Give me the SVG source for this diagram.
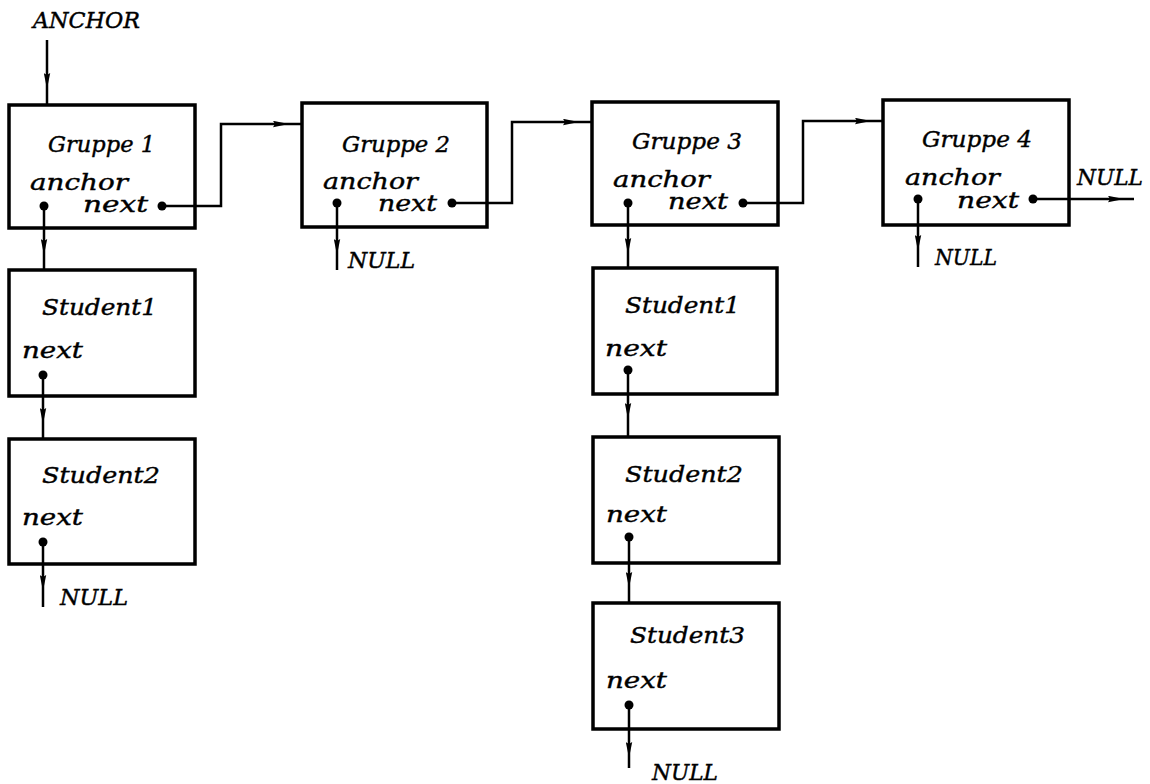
<svg xmlns="http://www.w3.org/2000/svg" width="1150" height="784" viewBox="0 0 1150 784">
<style>
.box{fill:none;stroke:#000;stroke-width:3.5}
.ln{fill:none;stroke:#000;stroke-width:2.5}
.ar{fill:none;stroke:#000;stroke-width:2.5;marker-end:url(#arr)}
.t{font-family:"DejaVu Serif","Liberation Serif",serif;font-style:italic;font-size:22px;fill:#000;stroke:#000;stroke-width:0.4}
.dot{fill:#000}
</style>
<defs>
<marker id="arr" viewBox="0 0 16 7" refX="15" refY="3.5" markerWidth="16" markerHeight="7" markerUnits="userSpaceOnUse" orient="auto">
<path d="M0,0.3 L16,3.5 L0,6.7 L2,3.5 Z" fill="#000"/>
</marker>
</defs>
<rect width="1150" height="784" fill="#fff"/>

<g id="connectors">
<path class="ar" d="M47,40 L47,88"/><path class="ln" d="M47,88 L47,105"/>
<path class="ar" d="M44,206 L44,254"/><path class="ln" d="M44,254 L44,270"/>
<path class="ln" d="M162,206 L221,206 L221,124 L272,124"/><path class="ar" d="M272,124 L288,124"/><path class="ln" d="M288,124 L302,124"/>
<path class="ar" d="M337,203 L337,254"/><path class="ln" d="M337,254 L337,270"/>
<path class="ln" d="M452,203 L512,203 L512,122 L562,122"/><path class="ar" d="M562,122 L578,122"/><path class="ln" d="M578,122 L592,122"/>
<path class="ar" d="M628,203 L628,253"/><path class="ln" d="M628,253 L628,268"/>
<path class="ln" d="M743,203 L803,203 L803,121 L853,121"/><path class="ar" d="M853,121 L870,121"/><path class="ln" d="M870,121 L883,121"/>
<path class="ar" d="M918,199 L918,250"/><path class="ln" d="M918,250 L918,267"/>
<path class="ar" d="M1033,199 L1123,199"/><path class="ln" d="M1123,199 L1134,199"/>
<path class="ar" d="M43,375 L43,423"/><path class="ln" d="M43,423 L43,439"/>
<path class="ar" d="M43,542 L43,590"/><path class="ln" d="M43,590 L43,607"/>
<path class="ar" d="M628,370 L628,418"/><path class="ln" d="M628,418 L628,437"/>
<path class="ar" d="M629,537 L629,587"/><path class="ln" d="M629,587 L629,603"/>
<path class="ar" d="M629,705 L629,757"/><path class="ln" d="M629,757 L629,768"/>
</g>

<g id="anchor-label">
<text class="t" x="33" y="28" textLength="107" lengthAdjust="spacingAndGlyphs">ANCHOR</text>
</g>

<g id="gruppe1">
<rect class="box" x="9" y="105" width="186" height="123"/>
<text class="t" x="48" y="152" textLength="107" lengthAdjust="spacingAndGlyphs">Gruppe 1</text>
<text class="t" x="30" y="190" textLength="98" lengthAdjust="spacingAndGlyphs">anchor</text>
<text class="t" x="83" y="212" textLength="65" lengthAdjust="spacingAndGlyphs">next</text>
<circle class="dot" cx="44" cy="206" r="4.5"/>
<circle class="dot" cx="162" cy="206" r="4.5"/>
</g>

<g id="gruppe2">
<rect class="box" x="302" y="103" width="185" height="124"/>
<text class="t" x="342" y="152" textLength="108" lengthAdjust="spacingAndGlyphs">Gruppe 2</text>
<text class="t" x="323" y="189" textLength="95" lengthAdjust="spacingAndGlyphs">anchor</text>
<text class="t" x="378" y="211" textLength="59" lengthAdjust="spacingAndGlyphs">next</text>
<circle class="dot" cx="337" cy="203" r="4.5"/>
<circle class="dot" cx="452" cy="203" r="4.5"/>
<text class="t" x="348" y="268" textLength="67" lengthAdjust="spacingAndGlyphs">NULL</text>
</g>

<g id="gruppe3">
<rect class="box" x="592" y="102" width="186" height="123"/>
<text class="t" x="632" y="149" textLength="110" lengthAdjust="spacingAndGlyphs">Gruppe 3</text>
<text class="t" x="613" y="187" textLength="97" lengthAdjust="spacingAndGlyphs">anchor</text>
<text class="t" x="668" y="209" textLength="60" lengthAdjust="spacingAndGlyphs">next</text>
<circle class="dot" cx="628" cy="203" r="4.5"/>
<circle class="dot" cx="743" cy="203" r="4.5"/>
</g>

<g id="gruppe4">
<rect class="box" x="883" y="100" width="186" height="125"/>
<text class="t" x="922" y="147" textLength="110" lengthAdjust="spacingAndGlyphs">Gruppe 4</text>
<text class="t" x="905" y="185" textLength="95" lengthAdjust="spacingAndGlyphs">anchor</text>
<text class="t" x="957" y="208" textLength="62" lengthAdjust="spacingAndGlyphs">next</text>
<circle class="dot" cx="918" cy="199" r="4.5"/>
<circle class="dot" cx="1033" cy="199" r="4.5"/>
<text class="t" x="1077" y="185" textLength="66" lengthAdjust="spacingAndGlyphs">NULL</text>
<text class="t" x="935" y="265" textLength="62" lengthAdjust="spacingAndGlyphs">NULL</text>
</g>

<g id="g1-student1">
<rect class="box" x="9" y="270" width="186" height="126"/>
<text class="t" x="42" y="315" textLength="115" lengthAdjust="spacingAndGlyphs">Student1</text>
<text class="t" x="22" y="358" textLength="61" lengthAdjust="spacingAndGlyphs">next</text>
<circle class="dot" cx="43" cy="375" r="4.5"/>
</g>

<g id="g1-student2">
<rect class="box" x="9" y="439" width="186" height="125"/>
<text class="t" x="42" y="483" textLength="118" lengthAdjust="spacingAndGlyphs">Student2</text>
<text class="t" x="22" y="525" textLength="61" lengthAdjust="spacingAndGlyphs">next</text>
<circle class="dot" cx="43" cy="542" r="4.5"/>
<text class="t" x="60" y="605" textLength="68" lengthAdjust="spacingAndGlyphs">NULL</text>
</g>

<g id="g3-student1">
<rect class="box" x="593" y="268" width="184" height="126"/>
<text class="t" x="625" y="313" textLength="115" lengthAdjust="spacingAndGlyphs">Student1</text>
<text class="t" x="605" y="356" textLength="62" lengthAdjust="spacingAndGlyphs">next</text>
<circle class="dot" cx="628" cy="370" r="4.5"/>
</g>

<g id="g3-student2">
<rect class="box" x="593" y="437" width="186" height="126"/>
<text class="t" x="625" y="482" textLength="118" lengthAdjust="spacingAndGlyphs">Student2</text>
<text class="t" x="606" y="522" textLength="61" lengthAdjust="spacingAndGlyphs">next</text>
<circle class="dot" cx="629" cy="537" r="4.5"/>
</g>

<g id="g3-student3">
<rect class="box" x="593" y="603" width="186" height="126"/>
<text class="t" x="630" y="643" textLength="115" lengthAdjust="spacingAndGlyphs">Student3</text>
<text class="t" x="606" y="688" textLength="61" lengthAdjust="spacingAndGlyphs">next</text>
<circle class="dot" cx="629" cy="705" r="4.5"/>
<text class="t" x="652" y="780" textLength="66" lengthAdjust="spacingAndGlyphs">NULL</text>
</g>
</svg>
